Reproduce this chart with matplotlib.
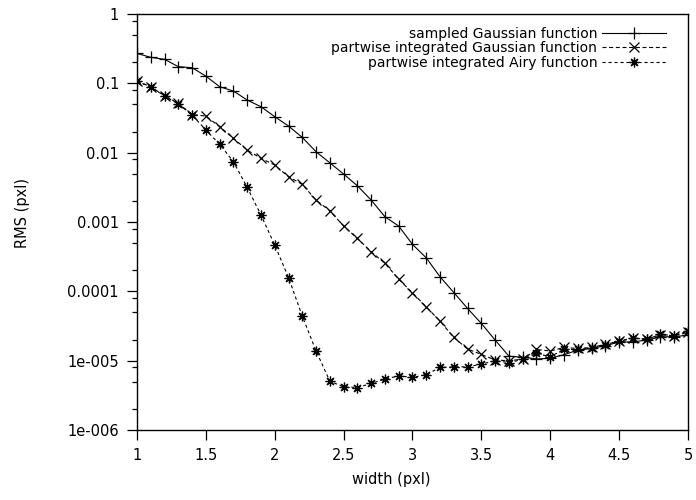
import matplotlib
matplotlib.use("Agg")
import matplotlib.pyplot as plt
from matplotlib.ticker import LogLocator, FixedLocator, NullFormatter

plt.rcParams['font.family'] = ['DejaVu Sans']

width = [1.0, 1.1, 1.2, 1.3, 1.4, 1.5, 1.6, 1.7, 1.8, 1.9,
         2.0, 2.1, 2.2, 2.3, 2.4, 2.5, 2.6, 2.7, 2.8, 2.9,
         3.0, 3.1, 3.2, 3.3, 3.4, 3.5, 3.6, 3.7, 3.8, 3.9,
         4.0, 4.1, 4.2, 4.3, 4.4, 4.5, 4.6, 4.7, 4.8, 4.9, 5.0]

sampled_gauss = [0.27, 0.237, 0.222, 0.174, 0.168, 0.127, 0.0894, 0.0774, 0.0574, 0.046,
                 0.033, 0.0242, 0.0166, 0.0103, 0.00714, 0.00491, 0.00333, 0.00207, 0.00119, 0.000873,
                 0.000475, 0.000304, 0.000162, 9.6e-5, 5.66e-5, 3.44e-5, 1.98e-5, 1.16e-5, 1.12e-5, 1.06e-5,
                 1.08e-5, 1.22e-5, 1.42e-5, 1.5e-5, 1.65e-5, 1.85e-5, 1.87e-5, 1.98e-5, 2.2e-5, 2.22e-5, 2.33e-5]

integrated_gauss = [0.108, 0.089, 0.0663, 0.0514, 0.0355, 0.0337, 0.0237, 0.0161, 0.0109, 0.00828,
                    0.00663, 0.0045, 0.00349, 0.00207, 0.00145, 0.000873, 0.00058, 0.000372, 0.000253, 0.00015,
                    9.5e-5, 5.97e-5, 3.72e-5, 2.16e-5, 1.47e-5, 1.23e-5, 1.02e-5, 1.0e-5, 1.05e-5, 1.45e-5,
                    1.38e-5, 1.55e-5, 1.5e-5, 1.55e-5, 1.72e-5, 1.9e-5, 2.1e-5, 2.05e-5, 2.35e-5, 2.3e-5, 2.55e-5]

integrated_airy = [0.108, 0.088, 0.066, 0.0503, 0.0349, 0.0212, 0.0132, 0.0074, 0.00316, 0.00126,
                   0.000464, 0.000158, 4.39e-5, 1.38e-5, 5.06e-6, 4.19e-6, 4.1e-6, 4.69e-6, 5.41e-6, 6.04e-6,
                   5.73e-6, 6.3e-6, 7.98e-6, 8.15e-6, 8.15e-6, 8.9e-6, 1.0e-5, 9.4e-6, 1.04e-5, 1.27e-5,
                   1.14e-5, 1.45e-5, 1.45e-5, 1.5e-5, 1.71e-5, 1.91e-5, 2.13e-5, 2.04e-5, 2.39e-5, 2.3e-5, 2.67e-5]

labels = ["sampled Gaussian function",
          "partwise integrated Gaussian function",
          "partwise integrated Airy function"]

x_ticks = [1, 1.5, 2, 2.5, 3, 3.5, 4, 4.5, 5]
x_tick_labels = ["1", "1.5", "2", "2.5", "3", "3.5", "4", "4.5", "5"]
y_ticks = [1e-6, 1e-5, 1e-4, 1e-3, 1e-2, 1e-1, 1]
y_tick_labels = ["1e-006", "1e-005", "0.0001", "0.001", "0.01", "0.1", "1"]

fig = plt.figure(figsize=(6.96, 5.0), dpi=100)
ax = fig.add_axes([137 / 696, 1 - 430 / 500, (688 - 137) / 696, (430 - 14) / 500])

lw = 0.8
ax.plot(width, sampled_gauss, color='black', lw=lw, linestyle='-',
        marker='+', markersize=8, markeredgewidth=0.9, label=labels[0])
ax.plot(width, integrated_gauss, color='black', lw=lw, linestyle=(0, (3.6, 2.4)),
        marker='x', markersize=7, markeredgewidth=0.9, label=labels[1])
ax.plot(width, integrated_airy, color='black', lw=lw, linestyle=(0, (2.8, 2.6)),
        marker=(8, 2, 0), markersize=7, markeredgewidth=0.9, label=labels[2])

ax.set_yscale('log')
ax.set_xlim(1, 5)
ax.set_ylim(1e-6, 1)

ax.xaxis.set_major_locator(FixedLocator(x_ticks))
ax.set_xticklabels(x_tick_labels)
ax.yaxis.set_major_locator(FixedLocator(y_ticks))
ax.set_yticklabels(y_tick_labels)
ax.yaxis.set_minor_locator(LogLocator(base=10, subs=(2, 5, 8), numticks=20))
ax.yaxis.set_minor_formatter(NullFormatter())

ax.tick_params(axis='both', which='major', direction='out', length=7, width=0.9,
               labelsize=10.5, pad=6, top=False, right=False)
ax.tick_params(axis='y', which='minor', direction='out', length=3.5, width=0.9, right=False)
ax.tick_params(axis='x', which='minor', bottom=False, top=False)

for s in ax.spines.values():
    s.set_linewidth(1.0)

ax.set_xlabel("width (pxl)", fontsize=10.5)
ax.set_ylabel("RMS (pxl)", fontsize=10.5)
ax.xaxis.set_label_coords((391 - 137) / 551, (430 - 472) / 416)
ax.yaxis.set_label_coords((30 - 137) / 551, (430 - 213) / 416)

leg = ax.legend(loc='upper right', bbox_to_anchor=((666 - 137) / 551, (430 - 27) / 416),
                frameon=False, markerfirst=False, fontsize=10, numpoints=1,
                handlelength=4.6, handletextpad=0.35, labelspacing=0.02,
                borderpad=0, borderaxespad=0)

fig.savefig("out.png", dpi=100)
